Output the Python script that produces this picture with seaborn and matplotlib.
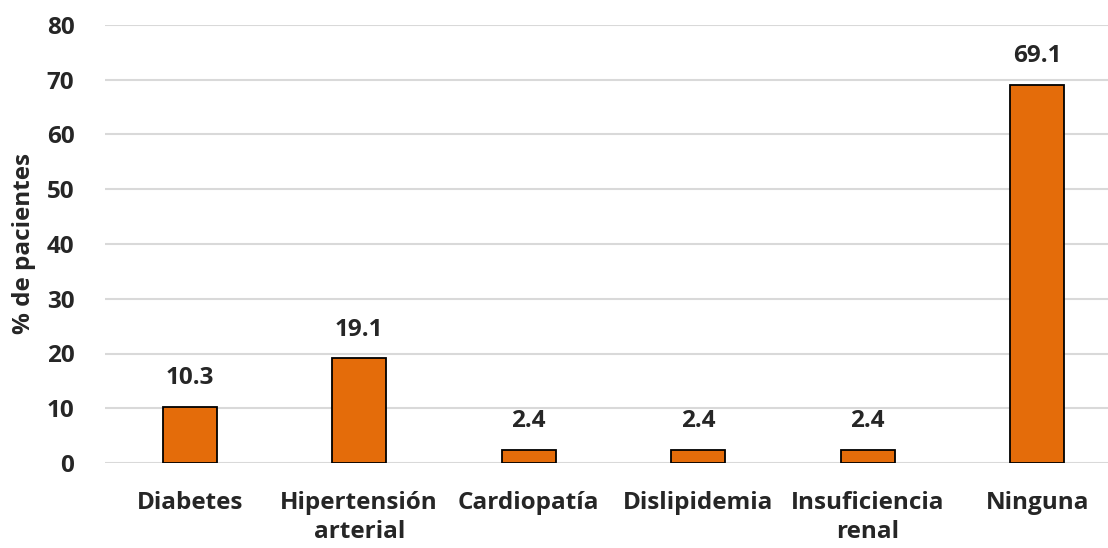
import matplotlib
matplotlib.use("Agg")
import matplotlib.pyplot as plt
import seaborn as sns
import pandas as pd

categories = ["Diabetes", "Hipertensión\narterial", "Cardiopatía", "Dislipidemia", "Insuficiencia\nrenal", "Ninguna"]
values = [10.3, 19.1, 2.4, 2.4, 2.4, 69.1]
yticks = [0, 10, 20, 30, 40, 50, 60, 70, 80]

sns.set_theme(style="white")
plt.rcParams['font.family'] = ['Open Sans', 'DejaVu Sans']
plt.rcParams['font.weight'] = 'bold'

df = pd.DataFrame({"cat": categories, "val": values})

fig = plt.figure(figsize=(11.08, 5.48), dpi=100)
ax = fig.add_axes([105/1108, 1 - 463/548, 1017/1108, (463 - 25)/548])

sns.barplot(data=df, x="cat", y="val", color="#E46C0A", saturation=1,
            edgecolor="black", linewidth=1.3, width=0.32, ax=ax, zorder=3)

fs = 17.5
ax.set_ylim(0, 80)
ax.set_xlim(-0.5, 5.5)
ax.set_yticks(yticks)
ax.set_yticklabels([str(t) for t in yticks], fontsize=fs, fontweight='bold')
ax.tick_params(axis='x', labelsize=fs, length=0, pad=20)
ax.tick_params(axis='y', length=0, pad=22)
for lbl in ax.get_xticklabels():
    lbl.set_fontweight('bold')
    lbl.set_linespacing(1.3)
ax.yaxis.grid(True, color="#D9D9D9", linewidth=1.5, zorder=0)
ax.set_axisbelow(True)
for s in ax.spines.values():
    s.set_visible(False)
ax.set_xlabel("")
ax.set_ylabel("% de pacientes", fontsize=fs, fontweight='bold', labelpad=8)

for i, v in enumerate(values):
    ax.text(i, v + 3.0, f"{v:.1f}", ha="center", va="bottom", fontsize=fs, fontweight='bold')

fig.savefig("out.png", dpi=100)
